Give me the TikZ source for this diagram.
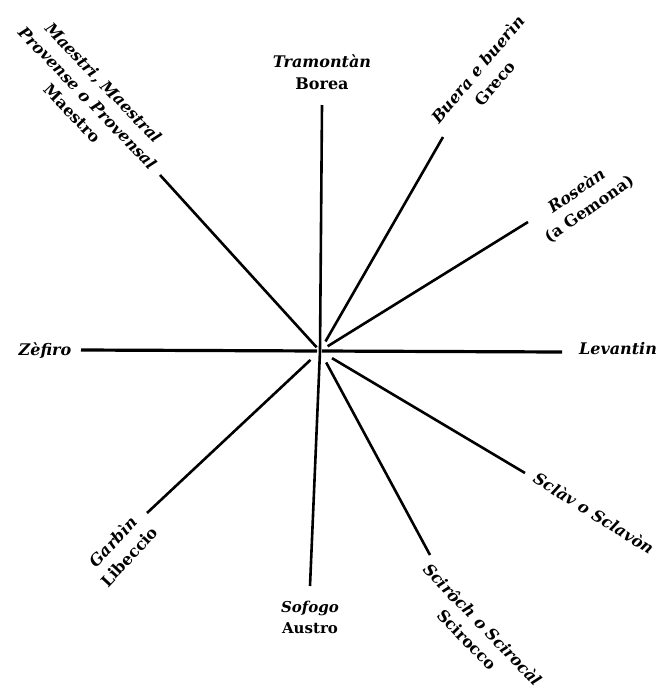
\documentclass[tikz,border=0pt]{standalone}
\usepackage{fontspec}
\setmainfont{DejaVu Serif}
\usepackage{tikz}
\usetikzlibrary{calc}

\begin{document}
\begin{tikzpicture}[x=1pt, y=-1pt,
  spoke/.style={line width=2.6pt},
  lbl/.style={font=\bfseries\fontsize{16}{22}\selectfont, align=center, inner sep=0pt}]
  \useasboundingbox (0,0) rectangle (664,691);
  % centre of the rose
  \coordinate (c) at (320,351);
  % outer ends of the spokes
  \coordinate (n)   at (322,105);
  \coordinate (s)   at (310,586);
  \coordinate (w)   at (81,350);
  \coordinate (e)   at (562,352);
  \coordinate (nw)  at (160,175);
  \coordinate (ne)  at (443,137);
  \coordinate (ene) at (528,222);
  \coordinate (ese) at (525,473);
  \coordinate (sse) at (430,555);
  \coordinate (sw)  at (147,513);
  % spokes
  \draw[spoke] (c) -- (n);
  \draw[spoke] (c) -- (s);
  \draw[spoke, line width=3.2pt, shorten <=3pt] (c) -- (w);
  \draw[spoke, line width=3.2pt, shorten <=2pt] (c) -- (e);
  \draw[spoke, shorten <=5pt] (c) -- (nw);
  \draw[spoke, shorten <=11pt] (c) -- (ne);
  \draw[spoke, shorten <=9pt] (c) -- (ene);
  \draw[spoke, shorten <=14pt] (c) -- (ese);
  \draw[spoke, shorten <=13pt] (c) -- (sse);
  \draw[spoke, shorten <=13pt] (c) -- (sw);
  % names of the winds
  \node[lbl] (tramontan) at (322,72) {\itshape Tramontàn\\Borea};
  \node[lbl, font=\bfseries\fontsize{15}{21}\selectfont] (sofogo) at (310,617) {\itshape Sofogo\\Austro};
  \node[lbl] (zefiro) at (45,351) {\itshape Zèfiro};
  \node[lbl] (levantin) at (618,349) {\itshape Levantin};
  \node[lbl, rotate=-46] (maestral) at (88,98)
    {\itshape Maestri, Maestral\\\itshape Provense o Provensal\\Maestro};
  \node[lbl, rotate=50] (buera) at (486,76) {\itshape Buera e buerìn\\Greco};
  \node[lbl, rotate=35] (rosean) at (583,200) {\itshape Roseàn\\(a Gemona)};
  \node[lbl, rotate=-32] (sclav) at (594,513) {\itshape Sclàv o Sclavòn};
  \node[lbl, rotate=-46] (sciroch) at (475,632) {\itshape Scirôch o Scirocàl\\Scirocco};
  \node[lbl, rotate=47] (garbin) at (121,549) {\itshape Garbìn\\Libeccio};
\end{tikzpicture}
\end{document}
